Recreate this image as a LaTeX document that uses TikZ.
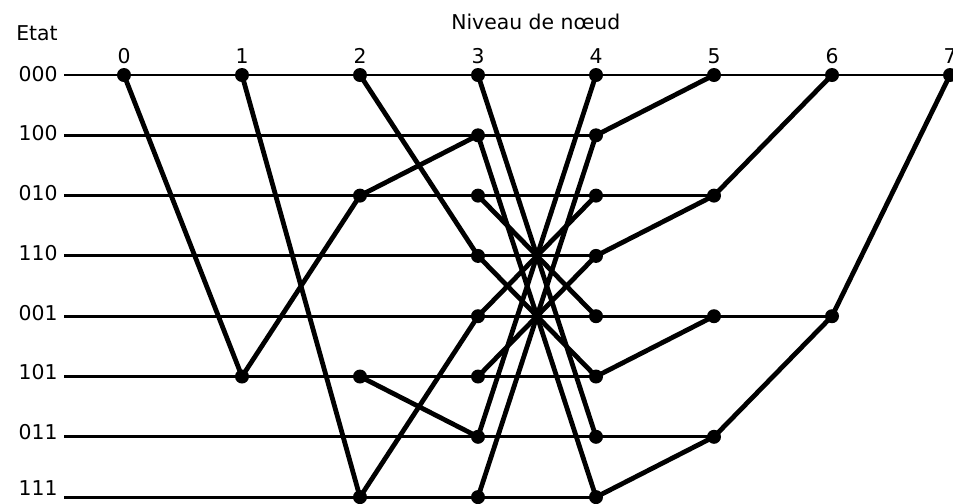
\documentclass[tikz,border=0pt]{standalone}
\usepackage{fontspec}
\setmainfont{DejaVu Sans}
\usetikzlibrary{backgrounds}

\begin{document}
\begin{tikzpicture}[x=2.95cm,y=-1.5075cm,
  dot/.style={circle,fill,inner sep=0pt,minimum size=3.5mm},
  stateline/.style={line width=2.1pt},
  edge/.style={line width=3.4pt,line cap=round},
  lbl/.style={font=\fontsize{14.5}{17}\selectfont,inner sep=0pt}]
  \useasboundingbox (-1.0508,-1.2438) rectangle (7.0254,7.0978);
  % dots of the trellis, column = level, row = state
  \foreach \c/\rows in {0/{0},1/{0,5},2/{0,2,5,7},3/{0,...,7},4/{0,...,7},5/{0,2,4,6},6/{0,4},7/{0}}
    \foreach \r in \rows
      \node[dot] (n\c\r) at (\c,\r) {};
  % states and their lines
  \foreach \r/\st/\last/\dy in {0/000/7/0.02,1/100/4/0.03,2/010/5/0.04,3/110/4/0.05,4/001/6/0.06,5/101/4/0.07,6/011/5/0.08,7/111/4/0.15} {
    \node[lbl,anchor=east] (lab\st) at (-0.56,\r-\dy) {\st};
    \coordinate (s\st) at (-0.508,\r);
    \begin{scope}[on background layer]
      \draw[stateline] (s\st) -- (n\last\r.center);
    \end{scope}
  }
  % levels
  \foreach \c in {0,...,7}
    \node[lbl] (lev\c) at (\c,-0.31) {\c};
  \node[lbl] (niveau) at (3.49,-0.879) {Niveau de nœud};
  \node[lbl,anchor=east] (etat) at (-0.56,-0.69) {Etat};
  % transitions
  \begin{scope}[on background layer]
    \foreach \a/\b in {00/15,10/27,15/22,20/33,22/31,25/36,27/34,30/46,31/47,32/44,33/45,34/42,35/43,36/40,37/41,41/50,43/52,45/54,47/56,52/60,56/64,64/70}
      \draw[edge] (n\a.center) -- (n\b.center);
  \end{scope}
\end{tikzpicture}
\end{document}
